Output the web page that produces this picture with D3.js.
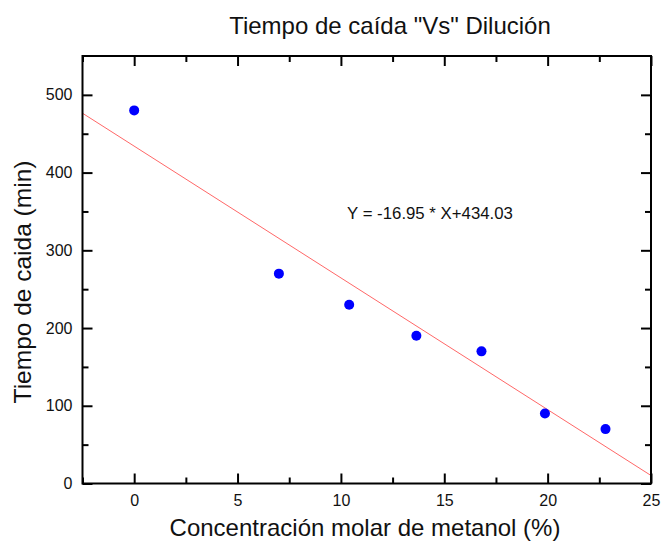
<!DOCTYPE html>
<html>
<head>
<meta charset="utf-8">
<script src="https://cdn.jsdelivr.net/npm/d3@7"></script>
<style>
  html, body { margin: 0; padding: 0; background: #fff; }
  svg { display: block; font-family: "Liberation Sans", Arial, sans-serif; }
</style>
</head>
<body>
<svg id="chart" width="662" height="548"></svg>
<script>
// Concentration (%) and fall time (min)
const concentracion = [0, 7, 10.4, 13.65, 16.8, 19.87, 22.8];
const tiempo = [480, 270, 230, 190, 170, 90, 70];
const xTicks = [0, 5, 10, 15, 20, 25];
const yTicks = [0, 100, 200, 300, 400, 500];
const xMinor = [-2.5, 2.5, 7.5, 12.5, 17.5, 22.5];
const yMinor = [50, 150, 250, 350, 450];
// Linear fit
const pendiente = -16.95;
const intercepto = 434.03;

const svg = d3.select("#chart");
const plot = { left: 82.5, right: 651, top: 56, bottom: 483.5 };

const x = d3.scaleLinear().domain([-2.5, 25]).range([plot.left, plot.right]);
const y = d3.scaleLinear().domain([0, 550]).range([plot.bottom, plot.top]);

// Fit line, clipped to the plot frame
svg.append("defs").append("clipPath").attr("id", "clip")
  .append("rect").attr("x", plot.left).attr("y", plot.top)
  .attr("width", plot.right - plot.left).attr("height", plot.bottom - plot.top);

const fitX = x.domain();
svg.append("line")
  .attr("clip-path", "url(#clip)")
  .attr("x1", x(fitX[0])).attr("y1", y(pendiente * fitX[0] + intercepto))
  .attr("x2", x(fitX[1])).attr("y2", y(pendiente * fitX[1] + intercepto))
  .attr("stroke", "#ff4040").attr("stroke-width", 0.8);

// Data points
svg.append("g").selectAll("circle")
  .data(concentracion.map((c, i) => [c, tiempo[i]]))
  .join("circle")
  .attr("cx", d => x(d[0])).attr("cy", d => y(d[1]))
  .attr("r", 5).attr("fill", "#0000ff");

// Axes with inward ticks
function styleAxis(g) {
  g.select(".domain").remove();
  g.selectAll("line").attr("stroke", "#000").attr("stroke-width", 2);
  g.selectAll("text").attr("font-size", 16).attr("fill", "#111");
}
const major = 10, minor = 6;

svg.append("g").attr("transform", `translate(0,${plot.bottom})`)
  .call(d3.axisBottom(x).tickValues(xTicks).tickSize(-major).tickPadding(0).tickFormat(d3.format("d")))
  .call(styleAxis)
  .call(g => g.selectAll("text").attr("dy", null).attr("y", 22));
svg.append("g").attr("transform", `translate(0,${plot.bottom})`)
  .call(d3.axisBottom(x).tickValues(xMinor).tickSize(-minor).tickFormat(""))
  .call(styleAxis);
svg.append("g").attr("transform", `translate(0,${plot.top})`)
  .call(d3.axisTop(x).tickValues(xTicks).tickSize(-major).tickFormat(""))
  .call(styleAxis);
svg.append("g").attr("transform", `translate(0,${plot.top})`)
  .call(d3.axisTop(x).tickValues(xMinor).tickSize(-minor).tickFormat(""))
  .call(styleAxis);

svg.append("g").attr("transform", `translate(${plot.left},0)`)
  .call(d3.axisLeft(y).tickValues(yTicks).tickSize(-major).tickPadding(0).tickFormat(d3.format("d")))
  .call(styleAxis)
  .call(g => g.selectAll("text").attr("x", -10));
svg.append("g").attr("transform", `translate(${plot.left},0)`)
  .call(d3.axisLeft(y).tickValues(yMinor).tickSize(-minor).tickFormat(""))
  .call(styleAxis);
svg.append("g").attr("transform", `translate(${plot.right},0)`)
  .call(d3.axisRight(y).tickValues(yTicks).tickSize(-major).tickFormat(""))
  .call(styleAxis);
svg.append("g").attr("transform", `translate(${plot.right},0)`)
  .call(d3.axisRight(y).tickValues(yMinor).tickSize(-minor).tickFormat(""))
  .call(styleAxis);

// Frame
svg.append("rect")
  .attr("x", plot.left).attr("y", plot.top)
  .attr("width", plot.right - plot.left).attr("height", plot.bottom - plot.top)
  .attr("fill", "none").attr("stroke", "#000").attr("stroke-width", 2);

// Texts
svg.append("text")
  .attr("x", 390).attr("y", 34).attr("text-anchor", "middle")
  .attr("font-size", 24).attr("fill", "#111")
  .text("Tiempo de caída \"Vs\" Dilución");

svg.append("text")
  .attr("x", 430).attr("y", 219).attr("text-anchor", "middle")
  .attr("font-size", 16.8).attr("fill", "#111")
  .text(`Y = ${pendiente} * X+${intercepto}`);

svg.append("text")
  .attr("x", 365).attr("y", 536).attr("text-anchor", "middle")
  .attr("font-size", 24).attr("fill", "#111")
  .text("Concentración molar de metanol (%)");

svg.append("text")
  .attr("transform", "translate(31,282) rotate(-90)")
  .attr("text-anchor", "middle")
  .attr("font-size", 24.5).attr("fill", "#111")
  .text("Tiempo de caida (min)");
</script>
</body>
</html>
